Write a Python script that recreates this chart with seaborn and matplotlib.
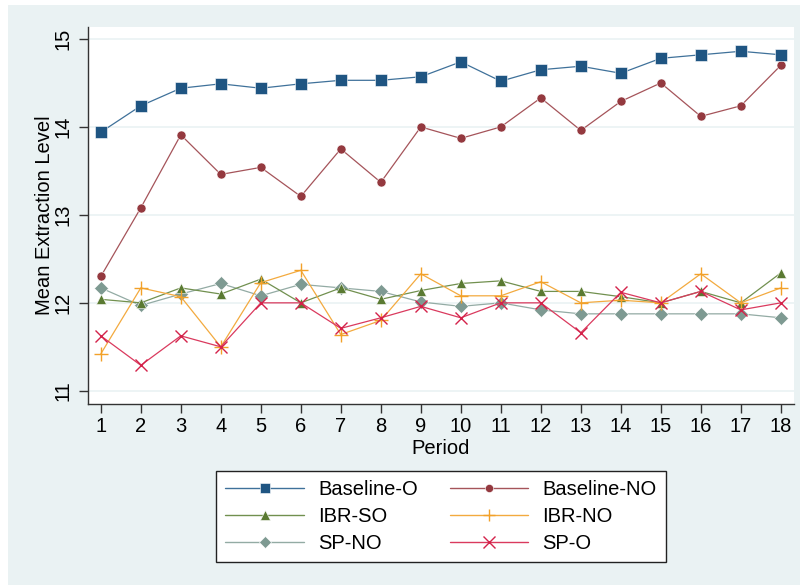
import matplotlib
matplotlib.use("Agg")
import matplotlib.pyplot as plt
import seaborn as sns
import pandas as pd
from matplotlib.lines import Line2D
from matplotlib.patches import Rectangle

periods = list(range(1, 19))
baseline_o = [13.94, 14.24, 14.44, 14.49, 14.44, 14.49, 14.53, 14.53, 14.57,
              14.74, 14.52, 14.65, 14.69, 14.61, 14.78, 14.82, 14.86, 14.82]
baseline_no = [12.30, 13.08, 13.91, 13.46, 13.54, 13.21, 13.75, 13.37, 14.00,
               13.87, 14.00, 14.33, 13.96, 14.29, 14.50, 14.12, 14.24, 14.70]
ibr_so = [12.04, 12.00, 12.17, 12.10, 12.27, 12.00, 12.17, 12.04, 12.14,
          12.22, 12.25, 12.13, 12.13, 12.07, 12.00, 12.13, 12.00, 12.34]
ibr_no = [11.42, 12.17, 12.07, 11.50, 12.23, 12.37, 11.64, 11.80, 12.33,
          12.08, 12.08, 12.24, 12.00, 12.03, 12.00, 12.33, 12.00, 12.17]
sp_no = [12.17, 11.97, 12.10, 12.22, 12.08, 12.21, 12.17, 12.13, 12.01,
         11.96, 12.00, 11.92, 11.875, 11.875, 11.875, 11.875, 11.875, 11.83]
sp_o = [11.625, 11.29, 11.625, 11.50, 12.00, 12.00, 11.71, 11.83, 11.96,
        11.83, 12.00, 12.00, 11.66, 12.12, 12.00, 12.13, 11.92, 12.00]

series_names = ["Baseline-O", "Baseline-NO", "IBR-SO", "IBR-NO", "SP-NO", "SP-O"]
series_values = [baseline_o, baseline_no, ibr_so, ibr_no, sp_no, sp_o]
colors = {"Baseline-O": "#1F5582", "Baseline-NO": "#94393F", "IBR-SO": "#5A7A32",
          "IBR-NO": "#F2A129", "SP-NO": "#7E9A92", "SP-O": "#D4224A"}
line_colors = {"Baseline-O": "#3F719A", "Baseline-NO": "#A5545A", "IBR-SO": "#71904F",
               "IBR-NO": "#F3AA3F", "SP-NO": "#93ABA4", "SP-O": "#DA3A5E"}
markers = {"Baseline-O": "s", "Baseline-NO": "o", "IBR-SO": "^",
           "IBR-NO": "+", "SP-NO": "D", "SP-O": "x"}
msizes = {"Baseline-O": 8.5, "Baseline-NO": 6.5, "IBR-SO": 7.5,
          "IBR-NO": 10, "SP-NO": 7, "SP-O": 9}

rows = []
for name, vals in zip(series_names, series_values):
    for p, v in zip(periods, vals):
        rows.append({"Period": p, "Value": v, "Series": name})
df = pd.DataFrame(rows)

sns.set_style("white")
plt.rcParams["font.family"] = ["Liberation Sans", "DejaVu Sans"]
plt.rcParams["text.color"] = "black"
plt.rcParams["axes.labelcolor"] = "black"
plt.rcParams["xtick.color"] = "black"
plt.rcParams["ytick.color"] = "black"

FS = 14.5
bg = "#EAF2F3"
fig = plt.figure(figsize=(8.04, 5.88), dpi=100)
fig.patch.set_facecolor("white")
frame = Rectangle((8 / 804, 3 / 588), 792 / 804, 580 / 588,
                  transform=fig.transFigure, facecolor=bg,
                  edgecolor="none", zorder=-10)
fig.add_artist(frame)
ax = fig.add_axes([88 / 804, 1 - 404 / 588, (794 - 88) / 804, (404 - 27) / 588])
ax.set_zorder(1)
ax.set_facecolor("white")

# draw order: later series on top
for name in ["SP-NO", "IBR-SO", "IBR-NO", "SP-O", "Baseline-NO", "Baseline-O"]:
    sub = df[df["Series"] == name]
    mk = markers[name]
    filled = mk not in ("+", "x")
    sns.lineplot(data=sub, x="Period", y="Value", ax=ax, color=line_colors[name],
                 marker=mk, markersize=msizes[name], linewidth=0.9,
                 markerfacecolor=colors[name],
                 markeredgecolor=("white" if filled else colors[name]),
                 markeredgewidth=(0.4 if filled else 1.0), legend=False,
                 zorder=3)

ax.set_xlim(0.68, 18.33)
ax.set_ylim(10.85, 15.136)
ax.set_yticks([11, 12, 13, 14, 15])
ax.set_xticks(periods)
ax.set_yticklabels(["11", "12", "13", "14", "15"], rotation=90, va="center")
ax.grid(axis="y", color=bg, linewidth=1.2)
ax.set_axisbelow(True)
for s in ["top", "right"]:
    ax.spines[s].set_visible(False)
for s in ["left", "bottom"]:
    ax.spines[s].set_color("#333333")
    ax.spines[s].set_linewidth(1.0)
ax.tick_params(axis="both", which="major", direction="out", length=6.5,
               width=1.0, color="#333333", labelsize=FS,
               left=True, bottom=True)
ax.tick_params(axis="y", pad=5)
ax.tick_params(axis="x", pad=3)
ax.set_xlabel("Period", fontsize=FS, labelpad=2)
ax.set_ylabel("Mean Extraction Level", fontsize=FS, labelpad=-1)

order = ["Baseline-O", "IBR-SO", "SP-NO", "Baseline-NO", "IBR-NO", "SP-O"]
handles = []
for name in order:
    mk = markers[name]
    filled = mk not in ("+", "x")
    handles.append(Line2D([0], [0], color=line_colors[name], marker=mk,
                          markersize=msizes[name] * 0.9, linewidth=1.0,
                          markerfacecolor=colors[name],
                          markeredgecolor=("white" if filled else colors[name]),
                          markeredgewidth=(0.4 if filled else 1.0)))
leg = fig.legend(handles, order, loc="center",
                 bbox_to_anchor=(441 / 804, 1 - 516.5 / 588), ncol=2,
                 fontsize=FS, frameon=True, fancybox=False, framealpha=1.0,
                 handlelength=3.9, handletextpad=0.7, columnspacing=1.6,
                 labelspacing=0.4, borderpad=0.45)
leg.get_frame().set_edgecolor("#222222")
leg.get_frame().set_linewidth(1.0)
leg.get_frame().set_facecolor("white")

fig.savefig("out.png", dpi=100, facecolor=fig.get_facecolor())
